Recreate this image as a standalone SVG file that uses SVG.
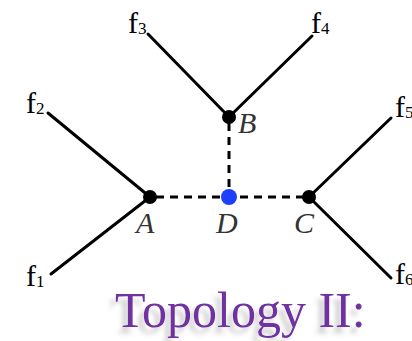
<svg xmlns="http://www.w3.org/2000/svg" width="412" height="341" viewBox="0 0 412 341">
<style>
.edge{stroke:#000;stroke-width:3;fill:none;stroke-linecap:round}
.dash{stroke:#000;stroke-width:3;fill:none;stroke-dasharray:8 6}
.leaf{font-family:"Liberation Serif","Times New Roman",serif;font-size:30px;fill:#000}
.sub{font-size:17px}
.lbl{font-family:"Liberation Serif","Times New Roman",serif;font-style:italic;font-size:30px;fill:#333}
.node{fill:#000}
.title{font-family:"Liberation Serif","Times New Roman",serif;font-size:50px;fill:#7030A0}
</style>
<defs>
<filter id="sh" x="-10%" y="-30%" width="120%" height="180%">
<feGaussianBlur in="SourceAlpha" stdDeviation="2.5" result="b"/>
<feOffset in="b" dx="-5" dy="6" result="o"/>
<feFlood flood-color="#888" flood-opacity="0.45"/>
<feComposite in2="o" operator="in" result="s"/>
<feMerge><feMergeNode in="s"/><feMergeNode in="SourceGraphic"/></feMerge>
</filter>
</defs>
<g id="connectors">
<line class="edge" x1="51" y1="274" x2="150" y2="197"/>
<line class="edge" x1="48" y1="113" x2="150" y2="197"/>
<line class="edge" x1="148" y1="34" x2="229" y2="117"/>
<line class="edge" x1="312" y1="36" x2="229" y2="117"/>
<line class="edge" x1="391" y1="118" x2="309" y2="197"/>
<line class="edge" x1="391" y1="278" x2="309" y2="197"/>
<line class="dash" x1="156" y1="197" x2="303" y2="197"/>
<line class="dash" x1="229" y1="123" x2="229" y2="191"/>
</g>
<g id="f1"><text class="leaf" x="26" y="286">f<tspan class="sub" dy="1">1</tspan></text></g>
<g id="f2"><text class="leaf" x="26" y="113">f<tspan class="sub" dy="1">2</tspan></text></g>
<g id="f3"><text class="leaf" x="128" y="33">f<tspan class="sub" dy="1">3</tspan></text></g>
<g id="f4"><text class="leaf" x="311" y="33">f<tspan class="sub" dy="1">4</tspan></text></g>
<g id="f5"><text class="leaf" x="395" y="117">f<tspan class="sub" dy="1">5</tspan></text></g>
<g id="f6"><text class="leaf" x="395" y="284">f<tspan class="sub" dy="1">6</tspan></text></g>
<g id="A"><circle class="node" cx="150" cy="197" r="7"/><text class="lbl" x="136" y="233">A</text></g>
<g id="B"><circle class="node" cx="229" cy="117" r="7"/><text class="lbl" x="238" y="133">B</text></g>
<g id="C"><circle class="node" cx="309" cy="197" r="7"/><text class="lbl" x="294" y="233">C</text></g>
<g id="D"><circle cx="229" cy="197" r="8" fill="#1F3FFF"/><text class="lbl" x="216" y="233">D</text></g>
<text class="title" x="115" y="327" filter="url(#sh)">Topology II:</text>
</svg>
